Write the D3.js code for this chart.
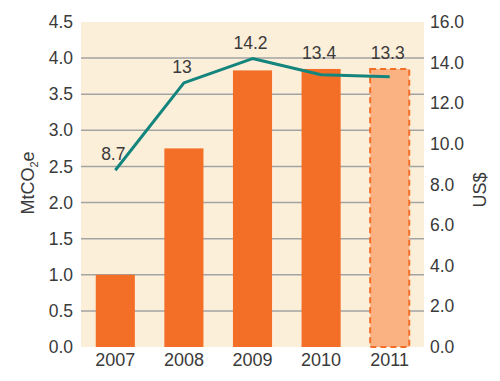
<!DOCTYPE html>
<html>
<head>
<meta charset="utf-8">
<script src="https://cdn.jsdelivr.net/npm/d3@7"></script>
<style>
html,body{margin:0;padding:0;background:#fff;}
svg text{font-family:"Liberation Sans",Arial,sans-serif;fill:#3a3a3a;}
</style>
</head>
<body>
<svg id="chart" width="500" height="381"></svg>
<script>
const years = ["2007","2008","2009","2010","2011"];
const emissions = [1.0, 2.75, 3.83, 3.85, 3.85];
const prices = [8.7, 13, 14.2, 13.4, 13.3];
const priceLabels = ["8.7","13","14.2","13.4","13.3"];
const estimated = [false, false, false, false, true];
const leftTicks = [0,0.5,1,1.5,2,2.5,3,3.5,4,4.5];
const rightTicks = [0,2,4,6,8,10,12,14,16];

const svg = d3.select("#chart");
const L = 81, R = 424, T = 22, B = 347;

const x = d3.scaleBand().domain(years).range([L, R]).paddingInner(0.43).paddingOuter(0.215);
const yL = d3.scaleLinear().domain([0, 4.5]).range([B, T]);
const yR = d3.scaleLinear().domain([0, 16]).range([B, T]);

svg.append("rect").attr("x", L).attr("y", T).attr("width", R - L).attr("height", B - T).attr("fill", "#fcefda");

// grid
svg.append("g").selectAll("line").data(leftTicks.filter(d => d > 0 && d < 4.5)).join("line")
  .attr("x1", L).attr("x2", R).attr("y1", d => yL(d)).attr("y2", d => yL(d))
  .attr("stroke", "#a3a3a3").attr("stroke-width", 1.5);

// bars
svg.append("g").selectAll("rect").data(years).join("rect")
  .attr("x", d => x(d)).attr("width", x.bandwidth())
  .attr("y", (d, i) => yL(emissions[i]))
  .attr("height", (d, i) => yL(0) - yL(emissions[i]))
  .attr("fill", (d, i) => estimated[i] ? "#fbb283" : "#f36f27")
  .attr("stroke", (d, i) => estimated[i] ? "#f36f27" : "none")
  .attr("stroke-width", 2)
  .attr("stroke-dasharray", "6,4");

// line
const line = d3.line().x((d, i) => x(years[i]) + x.bandwidth() / 2).y(d => yR(d));
svg.append("path").datum(prices).attr("d", line)
  .attr("fill", "none").attr("stroke", "#13857d").attr("stroke-width", 3).attr("stroke-linejoin", "round");

// value labels
svg.append("g").selectAll("text").data(prices).join("text")
  .attr("x", (d, i) => x(years[i]) + x.bandwidth() / 2 - 2)
  .attr("y", (d, i) => Math.min(yR(d), yL(emissions[i])) - 16)
  .attr("dy", "0.35em").attr("text-anchor", "middle").attr("font-size", 17.5)
  .text((d, i) => priceLabels[i]);

// left axis
const axL = svg.append("g").attr("transform", `translate(${L},0)`)
  .call(d3.axisLeft(yL).tickValues(leftTicks).tickFormat(d3.format(".1f")).tickSize(0).tickPadding(8));
axL.select(".domain").remove();
axL.selectAll("text").attr("font-size", 17.5).attr("font-family", null).attr("fill", null);

// right axis
const axR = svg.append("g").attr("transform", `translate(${R},0)`)
  .call(d3.axisRight(yR).tickValues(rightTicks).tickFormat(d3.format(".1f")).tickSize(0).tickPadding(6));
axR.select(".domain").remove();
axR.selectAll("text").attr("font-size", 17.5).attr("font-family", null).attr("fill", null);

// bottom axis
const axB = svg.append("g").attr("transform", `translate(0,${B})`)
  .call(d3.axisBottom(x).tickSize(0).tickPadding(6));
axB.select(".domain").remove();
axB.selectAll("text").attr("font-size", 18).attr("font-family", null).attr("fill", null);

// axis titles
const tl = svg.append("text").attr("transform", "translate(34,183) rotate(-90)")
  .attr("text-anchor", "middle").attr("font-size", 18);
tl.append("tspan").text("MtCO");
tl.append("tspan").text("2").attr("font-size", 11).attr("dy", 4);
tl.append("tspan").text("e").attr("dy", -4);

svg.append("text").attr("transform", "translate(486,190) rotate(-90)")
  .attr("text-anchor", "middle").attr("font-size", 18).text("US$");
</script>
</body>
</html>
